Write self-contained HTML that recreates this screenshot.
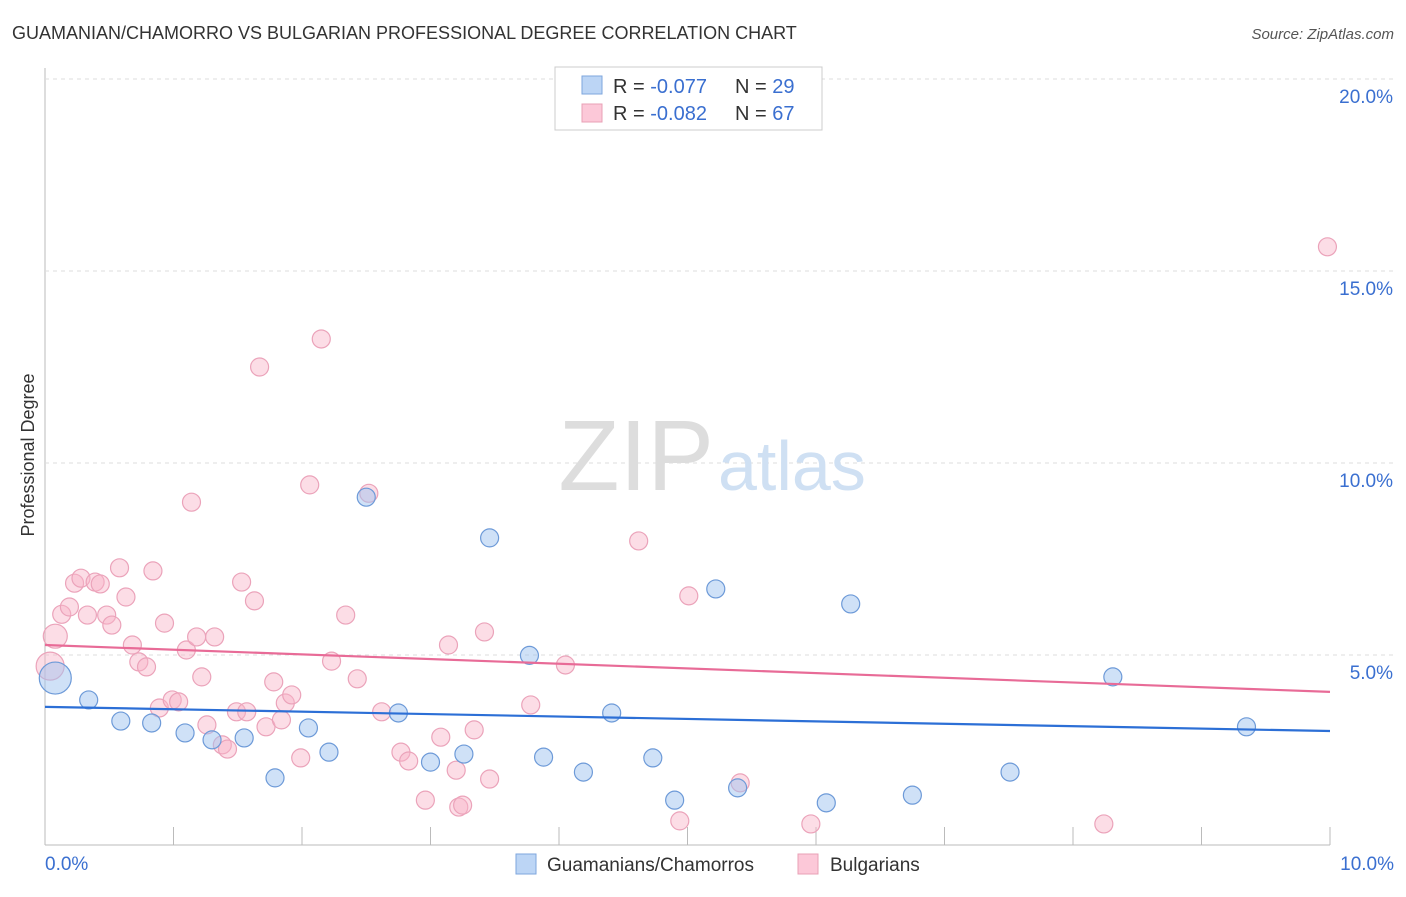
<!DOCTYPE html>
<html><head><meta charset="utf-8"><style>
body{margin:0;background:#fff;font-family:"Liberation Sans",sans-serif;}
svg text{font-family:"Liberation Sans",sans-serif;}
</style></head><body>
<svg id="chart" width="1406" height="892" xmlns="http://www.w3.org/2000/svg">
<text x="12" y="39" font-size="18" fill="#333">GUAMANIAN/CHAMORRO VS BULGARIAN PROFESSIONAL DEGREE CORRELATION CHART</text>
<text x="1394" y="39" font-size="15" fill="#555" text-anchor="end" font-style="italic">Source: ZipAtlas.com</text>
<g id="grid"></g>
<text x="714" y="490" font-size="100" fill="#ddd" text-anchor="end" font-family="Liberation Serif">ZIP</text>
<text x="718" y="490" font-size="70" fill="#cfe0f3">atlas</text>
<text x="34" y="455" font-size="18" fill="#333" text-anchor="middle" transform="rotate(-90 34 455)">Professional Degree</text>
<g id="marks"></g>
<g>
<rect x="555" y="67" width="267" height="63" fill="#fff" stroke="#ccc"/>
<rect x="582" y="76" width="20" height="18" fill="#bcd5f5" stroke="#7ea6dd"/>
<rect x="582" y="104" width="20" height="18" fill="#fcc8d8" stroke="#e8a0b6"/>
<text x="613" y="93" font-size="20" fill="#333">R = <tspan fill="#3a6fd0">-0.077</tspan></text>
<text x="735" y="93" font-size="20" fill="#333">N = <tspan fill="#3a6fd0">29</tspan></text>
<text x="613" y="120" font-size="20" fill="#333">R = <tspan fill="#3a6fd0">-0.082</tspan></text>
<text x="735" y="120" font-size="20" fill="#333">N = <tspan fill="#3a6fd0">67</tspan></text>
</g>
<g>
<rect x="516" y="854" width="20" height="20" fill="#bcd5f5" stroke="#7ea6dd"/>
<text x="547" y="871" font-size="19" fill="#333">Guamanians/Chamorros</text>
<rect x="798" y="854" width="20" height="20" fill="#fcc8d8" stroke="#e8a0b6"/>
<text x="830" y="871" font-size="19" fill="#333">Bulgarians</text>
</g>
</svg>
<script>
const xTicks=[0,1,2,3,4,5,6,7,8,9,10];
const yTicks=[5,10,15,20];
const blueX=[0.08,0.34,0.59,0.83,1.09,1.30,1.55,1.79,2.05,2.21,2.50,2.75,3.00,3.26,3.46,3.77,3.88,4.19,4.41,4.73,4.90,5.22,5.39,6.08,6.27,6.75,7.51,8.31,9.35];
const blueY=[4.4,3.83,3.28,3.23,2.97,2.79,2.84,1.80,3.10,2.47,9.11,3.49,2.21,2.42,8.05,4.99,2.34,1.95,3.49,2.32,1.22,6.72,1.54,1.15,6.33,1.35,1.95,4.43,3.13];
const blueR=[16,9,9,9,9,9,9,9,9,9,9,9,9,9,9,9,9,9,9,9,9,9,9,9,9,9,9,9,9];
const pinkX=[0.08,0.04,0.13,0.19,0.23,0.28,0.33,0.39,0.43,0.48,0.52,0.58,0.63,0.68,0.73,0.79,0.84,0.89,0.93,0.99,1.04,1.10,1.14,1.18,1.22,1.26,1.32,1.38,1.42,1.49,1.53,1.57,1.63,1.67,1.72,1.78,1.84,1.87,1.92,1.99,2.06,2.15,2.23,2.34,2.43,2.52,2.62,2.77,2.83,2.96,3.08,3.14,3.20,3.22,3.25,3.34,3.42,3.46,3.78,4.05,4.62,4.94,5.01,5.41,5.96,8.24,9.98];
const pinkY=[5.49,4.71,6.06,6.25,6.87,7.0,6.04,6.9,6.85,6.04,5.78,7.27,6.51,5.26,4.82,4.69,7.19,3.62,5.83,3.83,3.78,5.13,8.98,5.47,4.43,3.18,5.47,2.66,2.55,3.52,6.90,3.52,6.41,12.50,3.13,4.30,3.31,3.75,3.96,2.32,9.43,13.23,4.84,6.04,4.38,9.21,3.52,2.47,2.24,1.22,2.86,5.26,2.0,1.04,1.09,3.05,5.6,1.77,3.7,4.74,7.97,0.68,6.54,1.67,0.6,0.6,15.63];
const pinkR=[12,14,9,9,9,9,9,9,9,9,9,9,9,9,9,9,9,9,9,9,9,9,9,9,9,9,9,9,9,9,9,9,9,9,9,9,9,9,9,9,9,9,9,9,9,9,9,9,9,9,9,9,9,9,9,9,9,9,9,9,9,9,9,9,9,9,9];
const blueTrend=[3.65,3.02];
const pinkTrend=[5.26,4.04];
const NS='http://www.w3.org/2000/svg';
const X=v=>45+v*128.5;
const Y=v=>847-v*38.4;
function mk(tag,attrs,parent){const e=document.createElementNS(NS,tag);for(const k in attrs)e.setAttribute(k,attrs[k]);parent.appendChild(e);return e;}
const grid=document.getElementById('grid');
const marks=document.getElementById('marks');
const ax=mk('line',{x1:45,y1:68,x2:45,y2:845,stroke:'#bbb'},grid);


const bx=mk('line',{x1:45,y1:845,x2:1330,y2:845,stroke:'#bbb'},grid);


yTicks.forEach(t=>{
 const l=mk('line',{x1:45,y1:Y(t),x2:1395,y2:Y(t),stroke:'#ddd','stroke-dasharray':'4 4'},grid);
 
 
 const tx=mk('text',{x:1393,y:Y(t)+24,'font-size':19,fill:'#3a6fd0','text-anchor':'end'},grid);
 tx.textContent=t.toFixed(1)+'%';
 
 
});
xTicks.forEach(t=>{
 const l=mk('line',{x1:X(t),y1:827,x2:X(t),y2:845,stroke:'#bbb'},grid);
 
 
});
[[0,'start',45],[10,'end',1394]].forEach(([t,a,px])=>{
 const tx=mk('text',{x:px,y:870,'font-size':19,fill:'#3a6fd0','text-anchor':a},grid);
 tx.textContent=t.toFixed(1)+'%';
 
 
});
pinkX.forEach((x,i)=>{
 const c=mk('circle',{cx:X(x),cy:Y(pinkY[i]),r:pinkR[i],fill:'rgba(248,180,200,0.45)',stroke:'#eba3ba','stroke-width':1.2},marks);
 
 
});
blueX.forEach((x,i)=>{
 const c=mk('circle',{cx:X(x),cy:Y(blueY[i]),r:blueR[i],fill:'rgba(160,195,240,0.5)',stroke:'#6d9ad8','stroke-width':1.2},marks);
 
 
});
const bt=mk('line',{x1:X(0),y1:Y(blueTrend[0]),x2:X(10),y2:Y(blueTrend[1]),stroke:'#2c6fd6','stroke-width':2.2},marks);


const pt=mk('line',{x1:X(0),y1:Y(pinkTrend[0]),x2:X(10),y2:Y(pinkTrend[1]),stroke:'#e86b97','stroke-width':2.2},marks);


</script>
</body></html>
